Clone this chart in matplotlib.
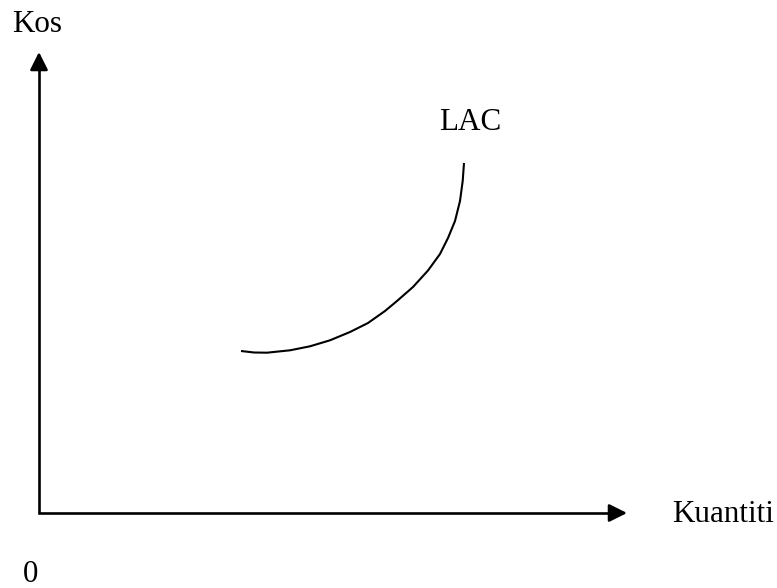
import matplotlib
matplotlib.use("Agg")
import matplotlib.pyplot as plt

# LAC curve (quantity, cost), origin at axes corner
lac_x = [202, 215, 228, 251, 271, 291, 311, 329, 346, 358, 374, 389, 401, 409, 416, 421, 423.7, 425]
lac_y = [162, 160.5, 160.3, 162.7, 166.7, 172.7, 181, 190, 202, 212, 226, 242.5, 259, 275, 292, 312, 332, 350]

x_axis_end = 588
y_axis_end = 461

y_label = "Kos"
x_label = "Kuantiti"
origin_label = "0"
curve_label = "LAC"

fig = plt.figure(figsize=(7.77, 5.88), dpi=100)
ax = fig.add_axes([0, 0, 1, 1])
ax.set_xlim(-39, 738)
ax.set_ylim(-75, 513)
ax.axis("off")

font = dict(family=["Liberation Serif", "DejaVu Serif"], fontsize=22.4, color="black")

# axes lines
head = 15
ax.plot([0, 0, x_axis_end - head], [y_axis_end - head, 0, 0], color="black", lw=1.9,
        solid_joinstyle="miter", solid_capstyle="butt")
arrow_style = "-|>,head_length=0.6,head_width=0.3"
ax.annotate("", xy=(x_axis_end, 0), xytext=(x_axis_end - head - 2, 0),
            arrowprops=dict(arrowstyle=arrow_style, mutation_scale=18, lw=1.9,
                            color="black", shrinkA=0, shrinkB=0))
ax.annotate("", xy=(0, y_axis_end), xytext=(0, y_axis_end - head - 2),
            arrowprops=dict(arrowstyle=arrow_style, mutation_scale=18, lw=1.9,
                            color="black", shrinkA=0, shrinkB=0))

# LAC curve
ax.plot(lac_x, lac_y, color="black", lw=1.5, solid_capstyle="butt",
        solid_joinstyle="round")

# labels
ax.text(-27, 481, y_label, ha="left", va="baseline", **font)
ax.text(633, -9, x_label, ha="left", va="baseline", **font)
ax.text(-8, -69, origin_label, ha="center", va="baseline", **font)
ax.text(400, 383, curve_label, ha="left", va="baseline", **font)

fig.savefig("out.png", dpi=100)
